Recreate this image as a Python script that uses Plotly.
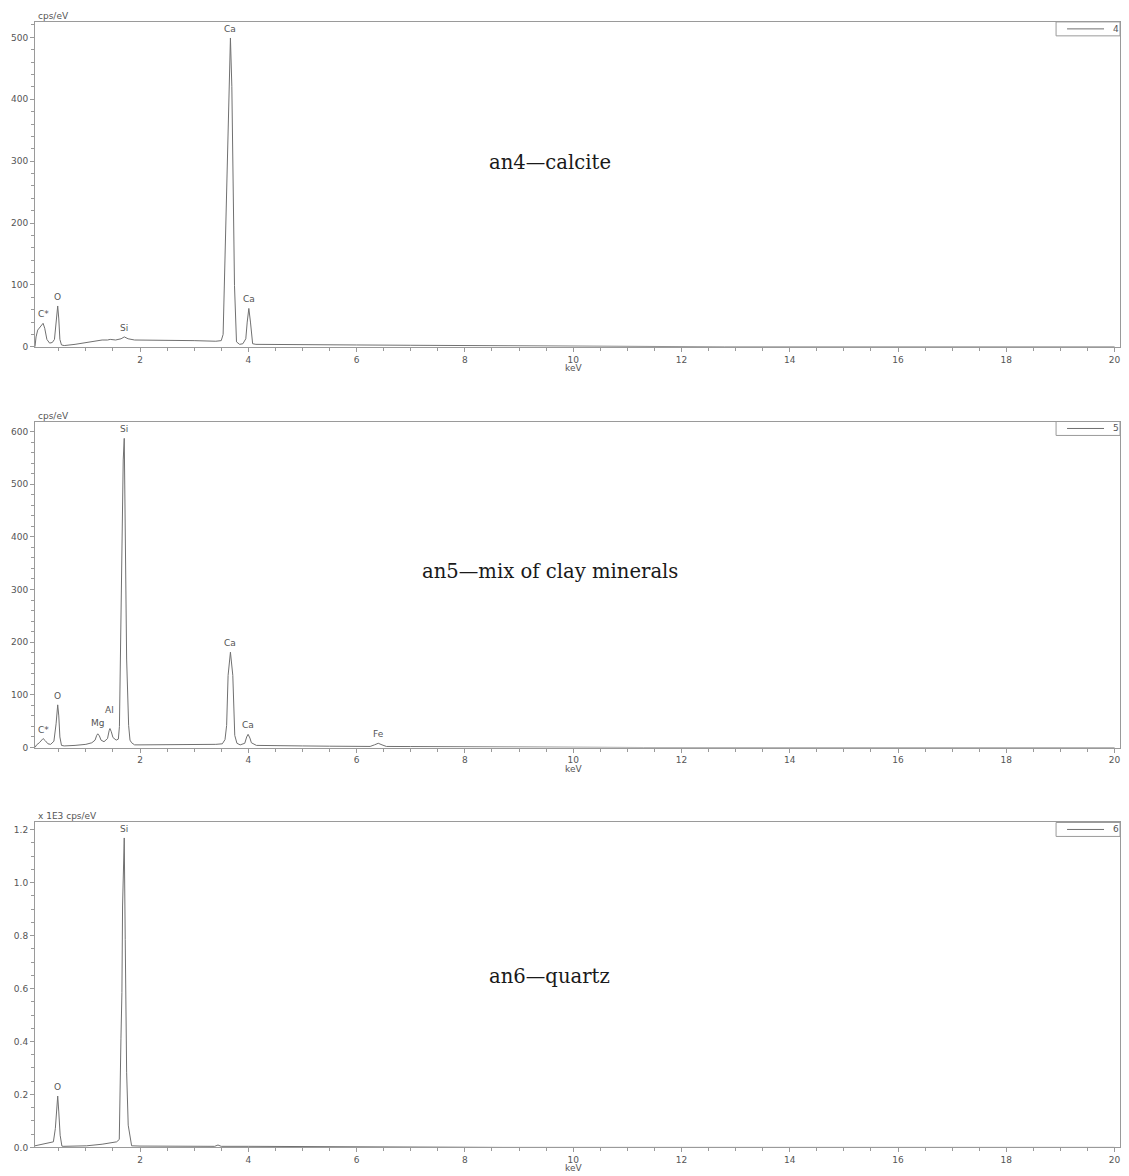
import plotly.graph_objects as go

# ---------------- data ----------------
# an4 - calcite: (keV, cps/eV)
an4_energy = [0.06, 0.08, 0.11, 0.15, 0.19, 0.21, 0.24, 0.28, 0.33, 0.38, 0.42, 0.45, 0.47, 0.48, 0.50,
              0.52, 0.55, 0.60, 0.80, 1.00, 1.20, 1.30, 1.40, 1.45, 1.55, 1.65, 1.71, 1.78, 1.90, 2.20,
              2.60, 3.00, 3.40, 3.50, 3.535, 3.572, 3.609, 3.646, 3.67, 3.696, 3.72, 3.745, 3.782, 3.84,
              3.90, 3.954, 3.98, 4.01, 4.04, 4.08, 4.14, 4.30, 4.60, 5.00, 5.50, 6.00, 7.00, 8.00, 9.00,
              10.0, 11.0, 12.0, 12.6, 12.8, 20.0]
an4_counts = [0, 16, 27, 32, 36, 38, 30, 12, 6, 7, 12, 35, 60, 66, 45,
              12, 3, 2, 4, 7, 10, 11, 11, 12, 11, 13, 16, 13, 11, 11,
              10, 10, 9, 10, 20, 153, 314, 448, 499, 421, 260, 99, 8, 4,
              5, 13, 40, 62, 40, 5, 4, 4, 4, 3.5, 3, 3, 2.5, 2, 1.5,
              1.3, 1, 0.8, 0.5, 0, 0]

# an5 - mix of clay minerals
an5_energy = [0.06, 0.09, 0.14, 0.19, 0.21, 0.25, 0.30, 0.35, 0.41, 0.45, 0.47, 0.48, 0.50, 0.52, 0.55,
              0.60, 0.80, 1.00, 1.11, 1.17, 1.20, 1.22, 1.25, 1.28, 1.335, 1.40, 1.43, 1.445, 1.47, 1.50,
              1.56, 1.60, 1.62, 1.642, 1.666, 1.69, 1.709, 1.727, 1.753, 1.79, 1.815, 1.845, 1.90, 2.00,
              2.50, 3.00, 3.40, 3.52, 3.57, 3.60, 3.627, 3.67, 3.714, 3.75, 3.79, 3.85, 3.935, 3.97,
              3.996, 4.03, 4.057, 4.15, 4.50, 5.00, 5.50, 6.00, 6.25, 6.33, 6.40, 6.47, 6.55, 7.0, 8.0,
              9.0, 10.0, 11.0, 11.2, 11.3, 20.0]
an5_counts = [0, 5, 9, 15, 17, 13, 7, 6, 12, 45, 76, 81, 60, 20, 4,
              3, 4, 6, 9, 14, 23, 26, 22, 14, 11, 17, 32, 36, 30, 19,
              14, 16, 40, 231, 420, 546, 587, 420, 168, 42, 14, 9, 5, 5,
              5, 5, 6, 7, 15, 42, 137, 181, 137, 23, 8, 5, 8, 20,
              25, 18, 9, 4, 4, 3, 2.5, 2, 2, 5, 8, 5, 2, 1.8, 1.5,
              1.3, 1.1, 1, 0.5, 0, 0]

# an6 - quartz (x 1E3 cps/eV)
an6_energy = [0.06, 0.20, 0.40, 0.436, 0.46, 0.48, 0.50, 0.525, 0.557, 0.58, 1.015, 1.30, 1.568, 1.617,
              1.648, 1.666, 1.678, 1.709, 1.727, 1.753, 1.782, 1.845, 2.0, 2.5, 3.0, 3.38, 3.44, 3.50,
              4.0, 5.0, 6.0, 7.0, 8.0, 8.5, 8.7, 20.0]
an6_counts = [0.006, 0.012, 0.021, 0.071, 0.147, 0.194, 0.134, 0.046, 0.005, 0.004, 0.006, 0.012, 0.021, 0.03,
              0.41, 0.585, 0.912, 1.169, 0.786, 0.284, 0.084, 0.006, 0.005, 0.005, 0.004, 0.004, 0.009, 0.004,
              0.004, 0.003, 0.003, 0.0025, 0.002, 0.001, 0, 0]

# peak labels: (text, keV, value)
an4_labels = [("C*", 0.21, 38), ("O", 0.48, 66), ("Si", 1.71, 16), ("Ca", 3.67, 499), ("Ca", 4.01, 62)]
an5_labels = [("C*", 0.21, 17), ("O", 0.48, 81), ("Mg", 1.22, 26), ("Al", 1.445, 36), ("Si", 1.709, 587),
              ("Ca", 3.67, 181), ("Ca", 3.996, 25), ("Fe", 6.40, 8)]
an6_labels = [("O", 0.48, 0.194), ("Si", 1.709, 1.169)]
label_shift_an5 = [2, 2, 4, 12, 2, 2, 2, 2]

series_names = ["4", "5", "6"]
panel_titles = ["an4\u2014calcite", "an5\u2014mix of clay minerals", "an6\u2014quartz"]
y_units = ["cps/eV", "cps/eV", "x 1E3 cps/eV"]
y_ranges = [[0, 525], [0, 619], [0, 1.2275]]
y_dticks = [100, 100, 0.2]
y_minor = [20, 20, 0.05]
x_range = [0.06, 20.1]

# ---------------- layout ----------------
W, H = 1129, 1176
doms_px = [(22, 348.3), (423.3, 750.7), (826, 1152.3)]
title_y_px = [163, 574, 981]
x_dom = [35 / W, 1121 / W]

LINE = "#707070"
AX = "#9a9a9a"
TXT = "#555555"
FONT = "DejaVu Sans"

fig = go.Figure()
data = [(an4_energy, an4_counts), (an5_energy, an5_counts), (an6_energy, an6_counts)]
labels = [an4_labels, an5_labels, an6_labels]
shifts = [[2] * len(an4_labels), label_shift_an5, [2] * len(an6_labels)]

annotations = []
shapes = []
for i, (ex, cy) in enumerate(data):
    k = "" if i == 0 else str(i + 1)
    fig.add_trace(go.Scatter(x=ex, y=cy, mode="lines", name=series_names[i],
                             line=dict(color=LINE, width=1), xaxis="x" + k, yaxis="y" + k,
                             showlegend=False))
    top_px, bot_px = doms_px[i]
    ydom = [1 - bot_px / H, 1 - top_px / H]
    fig.update_layout(**{
        "xaxis" + k: dict(domain=x_dom, range=x_range, anchor="y" + k, tick0=0, dtick=2,
                          ticks="outside", ticklen=4, tickcolor=AX, showline=True, linecolor=AX,
                          mirror=True, showgrid=False, zeroline=False,
                          minor=dict(dtick=0.5, ticks="outside", ticklen=3, tickcolor=AX),
                          tickfont=dict(size=9, color=TXT, family=FONT)),
        "yaxis" + k: dict(domain=ydom, range=y_ranges[i], anchor="x" + k, tick0=0, dtick=y_dticks[i],
                          ticks="outside", ticklen=4, tickcolor=AX, showline=True, linecolor=AX,
                          mirror=True, showgrid=False, zeroline=False,
                          tickformat=".1f" if i == 2 else "d",
                          minor=dict(dtick=y_minor[i], ticks="outside", ticklen=3, tickcolor=AX),
                          tickfont=dict(size=9, color=TXT, family=FONT)),
    })
    # x-axis title
    annotations.append(dict(text="keV", xref="x" + k, yref="paper", x=10, y=ydom[0],
                            xanchor="center", yanchor="top", yshift=-14, showarrow=False,
                            font=dict(size=9, color=TXT, family=FONT)))
    # units label
    annotations.append(dict(text=y_units[i], xref="paper", yref="paper", x=x_dom[0], y=ydom[1],
                            xanchor="left", yanchor="bottom", showarrow=False, xshift=1, yshift=-1,
                            font=dict(size=9, color=TXT, family=FONT)))
    # panel title
    annotations.append(dict(text=panel_titles[i], xref="paper", yref="paper", x=550 / W,
                            y=1 - title_y_px[i] / H, xanchor="center", yanchor="middle",
                            showarrow=False, font=dict(size=19.6, color="#1a1a1a", family="DejaVu Serif")))
    for (t, lx, ly), s in zip(labels[i], shifts[i]):
        annotations.append(dict(text=t, x=lx, y=ly, xref="x" + k, yref="y" + k, xanchor="center",
                                yanchor="bottom", showarrow=False, yshift=s,
                                font=dict(size=9, color=TXT, family=FONT)))
    # legend box (series name with line sample), top-right inside the plot
    lt = 1 - top_px / H
    lb = 1 - (top_px + 14) / H
    lm = 1 - (top_px + 7) / H
    shapes.append(dict(type="rect", xref="paper", yref="paper", x0=1057 / W, x1=x_dom[1], y0=lb, y1=lt,
                       line=dict(color=AX, width=1), fillcolor="white", layer="above"))
    shapes.append(dict(type="line", xref="paper", yref="paper", x0=1068 / W, x1=1105 / W, y0=lm, y1=lm,
                       line=dict(color=LINE, width=1), layer="above"))
    annotations.append(dict(text=series_names[i], xref="paper", yref="paper", x=1117 / W, y=lm,
                            xanchor="center", yanchor="middle", showarrow=False,
                            font=dict(size=9, color=TXT, family=FONT)))

fig.update_layout(width=W, height=H, margin=dict(l=0, r=0, t=0, b=0),
                  paper_bgcolor="white", plot_bgcolor="white",
                  annotations=annotations, shapes=shapes)

fig.write_html("out.html", config={"displayModeBar": False},
               post_script="document.body.style.margin='0';document.body.style.overflow='hidden';")
